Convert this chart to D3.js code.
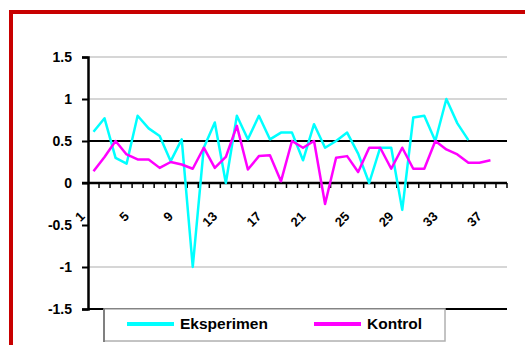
<!DOCTYPE html>
<html><head><meta charset="utf-8">
<script src="https://cdn.jsdelivr.net/npm/d3@7/dist/d3.min.js"></script>
<style>
html,body{margin:0;padding:0;background:#fff;}
svg{display:block;}
text{font-family:"Liberation Sans",Arial,sans-serif;font-weight:bold;fill:#000;}
</style></head>
<body>
<svg id="chart" width="525" height="345"></svg>
<script>
const categories = [1,2,3,4,5,6,7,8,9,10,11,12,13,14,15,16,17,18,19,20,21,22,23,24,25,26,27,28,29,30,31,32,33,34,35,36,37,38];
const xTickLabels = [1,5,9,13,17,21,25,29,33,37];
const yTicks = [-1.5,-1,-0.5,0,0.5,1,1.5];
const seriesNames = ["Eksperimen","Kontrol"];
const seriesColors = ["#00ffff","#ff00ff"];
const eksperimen = [0.61,0.77,0.30,0.23,0.80,0.65,0.56,0.26,0.52,-1.00,0.42,0.72,0.00,0.80,0.52,0.80,0.52,0.60,0.60,0.27,0.70,0.42,0.50,0.60,0.35,0.00,0.42,0.42,-0.32,0.78,0.80,0.50,1.00,0.71,0.51];
const kontrol = [0.14,0.31,0.50,0.34,0.28,0.28,0.18,0.25,0.22,0.17,0.42,0.18,0.31,0.68,0.16,0.32,0.33,0.02,0.50,0.42,0.50,-0.25,0.30,0.32,0.13,0.42,0.42,0.17,0.42,0.17,0.17,0.50,0.40,0.34,0.24,0.24,0.27];

const svg = d3.select("#chart");

// red outer border
svg.append("path").attr("d","M11,350 L11,12 L530,12")
  .attr("fill","none").attr("stroke","#c80000").attr("stroke-width",4);

const x = d3.scaleBand().domain(categories).range([88,507]);
const y = d3.scaleLinear().domain([-1.5,1.5]).range([309,57]);

// gridlines
const grid = svg.append("g");
[1.5,1,-1].forEach(v=>{
  grid.append("line").attr("x1",88).attr("x2",507).attr("y1",y(v)).attr("y2",y(v))
    .attr("stroke","#c8c8c8").attr("stroke-width",1.5);
});
[0.5,-1.5].forEach(v=>{
  grid.append("line").attr("x1",88).attr("x2",507).attr("y1",y(v)).attr("y2",y(v))
    .attr("stroke","#000").attr("stroke-width",2);
});

// y axis
const yAxis = d3.axisLeft(y).tickValues(yTicks).tickSize(6).tickPadding(10)
  .tickFormat(d=>String(d));
const gy = svg.append("g").attr("transform","translate(88,0)").call(yAxis);
gy.select(".domain").attr("stroke","#000").attr("stroke-width",2.5);
gy.selectAll(".tick line").attr("stroke","#000").attr("stroke-width",2);
gy.selectAll(".tick text").style("font-size","14px").attr("font-family",null);

// x axis at y=0
const gx = svg.append("g");
gx.append("line").attr("x1",82).attr("x2",507).attr("y1",y(0)).attr("y2",y(0))
  .attr("stroke","#000").attr("stroke-width",2.5);
const boundaries = categories.map(c=>x(c)).concat([x(categories[categories.length-1])+x.bandwidth()]);
gx.selectAll("line.tk").data(boundaries.slice(1)).enter().append("line").attr("class","tk")
  .attr("x1",d=>d).attr("x2",d=>d).attr("y1",y(0)).attr("y2",y(0)+5)
  .attr("stroke","#000").attr("stroke-width",1.5);
gx.selectAll("text").data(xTickLabels).enter().append("text")
  .attr("transform",d=>`translate(${x(d)+x.bandwidth()/2-11},${y(0)+31}) rotate(-45)`)
  .attr("text-anchor","end").attr("dy","0.35em")
  .style("font-size","13px").text(d=>d);

// lines
const lineGen = d3.line().x((d,i)=>x(categories[i])+x.bandwidth()/2).y(d=>y(d));
[eksperimen,kontrol].forEach((s,k)=>{
  svg.append("path").datum(s).attr("d",lineGen)
    .attr("fill","none").attr("stroke",seriesColors[k]).attr("stroke-width",2.5)
    .attr("stroke-linejoin","round");
});

// legend
const lg = svg.append("g");
lg.append("rect").attr("x",104).attr("y",309).attr("width",341).attr("height",32)
  .attr("fill","#fff").attr("stroke","#b0b0b0").attr("stroke-width",1.5);
lg.append("line").attr("x1",104).attr("x2",104).attr("y1",309).attr("y2",342)
  .attr("stroke","#808080").attr("stroke-width",2);
const legendX = [[127,174,180],[314,361,367]];
seriesNames.forEach((n,k)=>{
  lg.append("line").attr("x1",legendX[k][0]).attr("x2",legendX[k][1]).attr("y1",324).attr("y2",324)
    .attr("stroke",seriesColors[k]).attr("stroke-width",4);
  lg.append("text").attr("x",legendX[k][2]).attr("y",324).attr("dy","0.35em")
    .style("font-size","15.5px").text(n);
});
</script>
</body></html>
